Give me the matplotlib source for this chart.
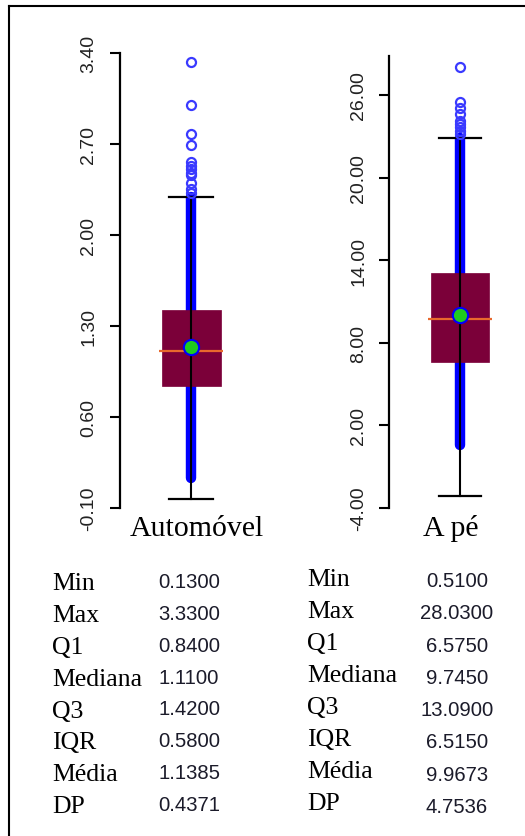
import matplotlib
matplotlib.use('Agg')
import matplotlib.pyplot as plt
from matplotlib.lines import Line2D

# dados
categorias = ['Automóvel', 'A pé']
nomes = ['Min', 'Max', 'Q1', 'Mediana', 'Q3', 'IQR', 'Média', 'DP']
auto_vals = [0.1300, 3.3300, 0.8400, 1.1100, 1.4200, 0.5800, 1.1385, 0.4371]
ape_vals = [0.5100, 28.0300, 6.5750, 9.7450, 13.0900, 6.5150, 9.9673, 4.7536]
auto_outliers = [3.33, 3.00, 2.78, 2.69, 2.56, 2.53, 2.51, 2.48, 2.46, 2.40, 2.35, 2.32]
ape_outliers = [28.03, 25.51, 25.03, 24.62, 24.13, 23.89, 23.65, 23.40, 23.16]
auto_ticks = [-0.10, 0.60, 1.30, 2.00, 2.70, 3.40]
ape_ticks = [-4.00, 2.00, 8.00, 14.00, 20.00, 26.00]

W, H = 525, 837
fig = plt.figure(figsize=(W / 100, H / 100), dpi=100)
fig.patch.set_facecolor('white')


def px_rect(x0, y0, x1, y1):
    return [x0 / W, 1 - y1 / H, (x1 - x0) / W, (y1 - y0) / H]


def fx(x):
    return x / W


def fy(y):
    return 1 - y / H


BOX_COR = '#7b0039'
AZUL = '#0000ff'


def desenha(ax, vals, outliers, ticks, pos, larg, cap, spine_top, pad):
    mn, mx, q1, med, q3, iqr, media, dp = vals
    whislo = q1 - 1.5 * iqr
    whishi = q3 + 1.5 * iqr
    # faixa de pontos densos
    ax.plot([pos, pos], [mn, whishi], color=AZUL, lw=7.5,
            solid_capstyle='round', zorder=1)
    st = [{'med': med, 'q1': q1, 'q3': q3, 'whislo': whislo,
           'whishi': whishi, 'fliers': outliers, 'mean': media}]
    ax.bxp(st, positions=[pos], widths=larg, patch_artist=True,
           showmeans=False, capwidths=cap,
           boxprops=dict(facecolor=BOX_COR, edgecolor=BOX_COR, linewidth=0.5),
           whiskerprops=dict(color='black', linewidth=1.5),
           capprops=dict(color='black', linewidth=1.6),
           medianprops=dict(linewidth=0),
           flierprops=dict(marker='o', markerfacecolor='none',
                           markeredgecolor='#3a3aff', markersize=6.5,
                           markeredgewidth=1.6),
           zorder=2)
    ax.vlines(pos, q1, q3, color='black', lw=1.5, zorder=3)
    ax.hlines(med, pos - larg * 0.55, pos + larg * 0.55,
              color='#e8692d', lw=1.6, zorder=4)
    ax.plot([pos], [media], 'o', markersize=11, markerfacecolor='#1fcc1f',
            markeredgecolor=AZUL, markeredgewidth=1.5, zorder=5)

    for s in ['top', 'right', 'bottom']:
        ax.spines[s].set_visible(False)
    ax.spines['left'].set_linewidth(1.6)
    ax.spines['left'].set_bounds(ticks[0], spine_top)
    ax.set_xticks([])
    ax.set_yticks(ticks)
    ax.set_yticklabels(['%.2f' % t for t in ticks], rotation=90, va='center',
                       family='Liberation Sans', fontsize=14, color='#222222')
    ax.tick_params(axis='y', length=7.5, width=1.5, pad=pad)
    ax.patch.set_alpha(0)


# painel esquerdo
ax1 = fig.add_axes(px_rect(120, 40, 300, 525))
ax1.set_xlim(120, 300)
ax1.set_ylim(-0.2231, 3.5077)
desenha(ax1, auto_vals, auto_outliers, auto_ticks, 191, 59, 44, 3.40, 9)

# painel direito
ax2 = fig.add_axes(px_rect(389, 40, 525, 525))
ax2.set_xlim(389, 525)
ax2.set_ylim(-5.2, 30.073)
desenha(ax2, ape_vals, ape_outliers, ape_ticks, 460, 58, 42, 28.84, 8)

# nomes das categorias
fig.text(fx(197), fy(536), categorias[0], family='Liberation Serif',
         fontsize=21.5, ha='center', va='baseline')
fig.text(fx(451), fy(536), categorias[1], family='Liberation Serif',
         fontsize=21.5, ha='center', va='baseline')

# tabelas de estatisticas
for i, nome in enumerate(nomes):
    fig.text(fx(52), fy(590 + 31.9 * i), nome, family='Liberation Serif',
             fontsize=18.5, ha='left', va='baseline')
    fig.text(fx(189), fy(587.5 + 32.0 * i), '%.4f' % auto_vals[i],
             family='Liberation Sans', fontsize=14.6, ha='center',
             va='baseline', color='#1b1b2a')
    fig.text(fx(307), fy(586 + 32.0 * i), nome, family='Liberation Serif',
             fontsize=18.5, ha='left', va='baseline')
    fig.text(fx(457), fy(587 + 32.3 * i), '%.4f' % ape_vals[i],
             family='Liberation Sans', fontsize=14.6, ha='center',
             va='baseline', color='#1b1b2a')

# moldura
fig.add_artist(Line2D([fx(9), fx(9)], [fy(7), 0], color='black', lw=1.5))
fig.add_artist(Line2D([fx(9), 1], [fy(7), fy(7)], color='black', lw=1.5))

fig.savefig('out.png', dpi=100)
